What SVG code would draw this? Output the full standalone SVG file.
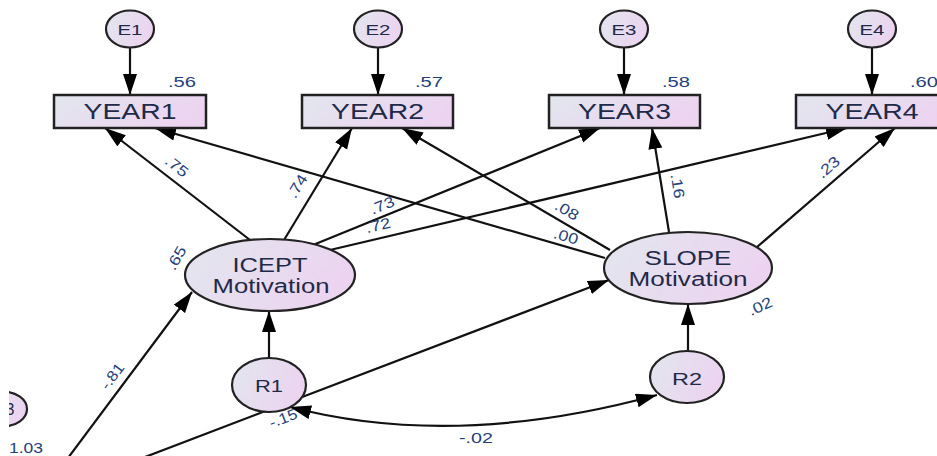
<svg xmlns="http://www.w3.org/2000/svg" width="937" height="456" viewBox="0 0 937 456">
<style>
.box{fill:url(#g);stroke:#222;stroke-width:2.5}
.el{fill:url(#g);stroke:#222;stroke-width:2.2}
.ln{fill:none;stroke:#111;stroke-width:2.2}
.t{font-family:"Liberation Sans",Arial,sans-serif;fill:#1f2a48;text-anchor:middle}
.n{font-family:"Liberation Sans",Arial,sans-serif;font-size:15px;fill:#25407a;text-anchor:middle;dominant-baseline:central}
</style>
<defs>
<linearGradient id="g" x1="0" y1="0" x2="1" y2="0.3">
<stop offset="0" stop-color="#e2e6ee"/>
<stop offset="1" stop-color="#ecd4f0"/>
</linearGradient>
<marker id="a" markerUnits="userSpaceOnUse" markerWidth="22" markerHeight="16" refX="21" refY="7" orient="auto-start-reverse">
<path d="M0,0 L21,7 L0,14 z" fill="#000"/>
</marker>
<clipPath id="c"><rect x="9" y="0" width="928" height="456"/></clipPath>
</defs>
<rect width="937" height="456" fill="#fff"/>
<g clip-path="url(#c)">
<g id="connectors">
<line class="ln" x1="130" y1="47" x2="130" y2="95" marker-end="url(#a)"/>
<line class="ln" x1="378" y1="47" x2="378" y2="95" marker-end="url(#a)"/>
<line class="ln" x1="624" y1="47" x2="624" y2="95" marker-end="url(#a)"/>
<line class="ln" x1="872" y1="47" x2="872" y2="95" marker-end="url(#a)"/>
<line class="ln" x1="250" y1="240" x2="105" y2="128" marker-end="url(#a)"/>
<line class="ln" x1="284" y1="240" x2="352" y2="128" marker-end="url(#a)"/>
<line class="ln" x1="313" y1="245" x2="600" y2="128" marker-end="url(#a)"/>
<line class="ln" x1="330" y1="250" x2="847" y2="128" marker-end="url(#a)"/>
<line class="ln" x1="605" y1="258" x2="155" y2="128" marker-end="url(#a)"/>
<line class="ln" x1="610" y1="250" x2="402" y2="128" marker-end="url(#a)"/>
<line class="ln" x1="669" y1="232" x2="652" y2="128" marker-end="url(#a)"/>
<line class="ln" x1="757" y1="247" x2="895" y2="128" marker-end="url(#a)"/>
<line class="ln" x1="59" y1="470" x2="192" y2="292" marker-end="url(#a)"/>
<line class="ln" x1="111" y1="470" x2="609" y2="280" marker-end="url(#a)"/>
<line class="ln" x1="269" y1="358" x2="269" y2="311" marker-end="url(#a)"/>
<line class="ln" x1="688" y1="351" x2="688" y2="304" marker-end="url(#a)"/>
<path class="ln" d="M290,407 Q455,450 657,395" marker-start="url(#a)" marker-end="url(#a)"/>
</g>
<g id="labels">
<text class="n" transform="translate(177,166) rotate(37.7)" textLength="25" lengthAdjust="spacingAndGlyphs">.75</text>
<text class="n" transform="translate(297,186) rotate(-58.6)" textLength="25" lengthAdjust="spacingAndGlyphs">.74</text>
<text class="n" transform="translate(382,205) rotate(-22)" textLength="25" lengthAdjust="spacingAndGlyphs">.73</text>
<text class="n" transform="translate(378,225) rotate(-13.3)" textLength="25" lengthAdjust="spacingAndGlyphs">.72</text>
<text class="n" transform="translate(567,210) rotate(30.4)" textLength="25" lengthAdjust="spacingAndGlyphs">.08</text>
<text class="n" transform="translate(566,236) rotate(16)" textLength="25" lengthAdjust="spacingAndGlyphs">.00</text>
<text class="n" transform="translate(678,186) rotate(81)" textLength="25" lengthAdjust="spacingAndGlyphs">.16</text>
<text class="n" transform="translate(828,167) rotate(-41)" textLength="25" lengthAdjust="spacingAndGlyphs">.23</text>
<text class="n" transform="translate(176,258) rotate(-60)" textLength="25" lengthAdjust="spacingAndGlyphs">.65</text>
<text class="n" transform="translate(112,376) rotate(-53)" textLength="29" lengthAdjust="spacingAndGlyphs">-.81</text>
<text class="n" transform="translate(283,418) rotate(-21)" textLength="29" lengthAdjust="spacingAndGlyphs">-.15</text>
<text class="n" transform="translate(760,306) rotate(-25)" textLength="25" lengthAdjust="spacingAndGlyphs">.02</text>
<text class="n" x="476" y="437" textLength="34" lengthAdjust="spacingAndGlyphs">-.02</text>
<text class="n" x="182" y="81" textLength="28" lengthAdjust="spacingAndGlyphs">.56</text>
<text class="n" x="429" y="81" textLength="28" lengthAdjust="spacingAndGlyphs">.57</text>
<text class="n" x="676" y="81" textLength="28" lengthAdjust="spacingAndGlyphs">.58</text>
<text class="n" x="924" y="81" textLength="28" lengthAdjust="spacingAndGlyphs">.60</text>
<text class="n" x="26" y="447" textLength="34" lengthAdjust="spacingAndGlyphs">1.03</text>
</g>
<g id="E1"><ellipse class="el" cx="130" cy="29" rx="24" ry="18.5"/><text class="t" x="130" y="35" font-size="15" textLength="25" lengthAdjust="spacingAndGlyphs">E1</text></g>
<g id="E2"><ellipse class="el" cx="378" cy="29" rx="24" ry="18.5"/><text class="t" x="378" y="35" font-size="15" textLength="25" lengthAdjust="spacingAndGlyphs">E2</text></g>
<g id="E3"><ellipse class="el" cx="624" cy="29" rx="24" ry="18.5"/><text class="t" x="624" y="35" font-size="15" textLength="25" lengthAdjust="spacingAndGlyphs">E3</text></g>
<g id="E4"><ellipse class="el" cx="872" cy="29" rx="24" ry="18.5"/><text class="t" x="872" y="35" font-size="15" textLength="25" lengthAdjust="spacingAndGlyphs">E4</text></g>
<g id="YEAR1"><rect class="box" x="54" y="95" width="152" height="33"/><text class="t" x="130" y="119" font-size="22" textLength="93" lengthAdjust="spacingAndGlyphs">YEAR1</text></g>
<g id="YEAR2"><rect class="box" x="302" y="95" width="151" height="33"/><text class="t" x="377.5" y="119" font-size="22" textLength="93" lengthAdjust="spacingAndGlyphs">YEAR2</text></g>
<g id="YEAR3"><rect class="box" x="549" y="95" width="151" height="33"/><text class="t" x="624.5" y="119" font-size="22" textLength="93" lengthAdjust="spacingAndGlyphs">YEAR3</text></g>
<g id="YEAR4"><rect class="box" x="796" y="95" width="152" height="33"/><text class="t" x="872" y="119" font-size="22" textLength="93" lengthAdjust="spacingAndGlyphs">YEAR4</text></g>
<g id="ICEPT"><ellipse class="el" cx="270" cy="275" rx="85" ry="36"/><text class="t" x="270" y="272" font-size="20" textLength="75" lengthAdjust="spacingAndGlyphs">ICEPT</text><text class="t" x="271" y="293" font-size="20" textLength="117" lengthAdjust="spacingAndGlyphs">Motivation</text></g>
<g id="SLOPE"><ellipse class="el" cx="688" cy="268" rx="84" ry="36"/><text class="t" x="688" y="265" font-size="20" textLength="87" lengthAdjust="spacingAndGlyphs">SLOPE</text><text class="t" x="688" y="286" font-size="20" textLength="119" lengthAdjust="spacingAndGlyphs">Motivation</text></g>
<g id="R1"><ellipse class="el" cx="269" cy="385" rx="37" ry="27"/><text class="t" x="269" y="392" font-size="16" textLength="28" lengthAdjust="spacingAndGlyphs">R1</text></g>
<g id="R2"><ellipse class="el" cx="687" cy="377" rx="37" ry="26"/><text class="t" x="687" y="385" font-size="16" textLength="30" lengthAdjust="spacingAndGlyphs">R2</text></g>
<g id="E5"><ellipse class="el" cx="3" cy="409" rx="24" ry="17.5"/><text class="t" x="10" y="415" font-size="16">3</text></g>
</g>
</svg>
